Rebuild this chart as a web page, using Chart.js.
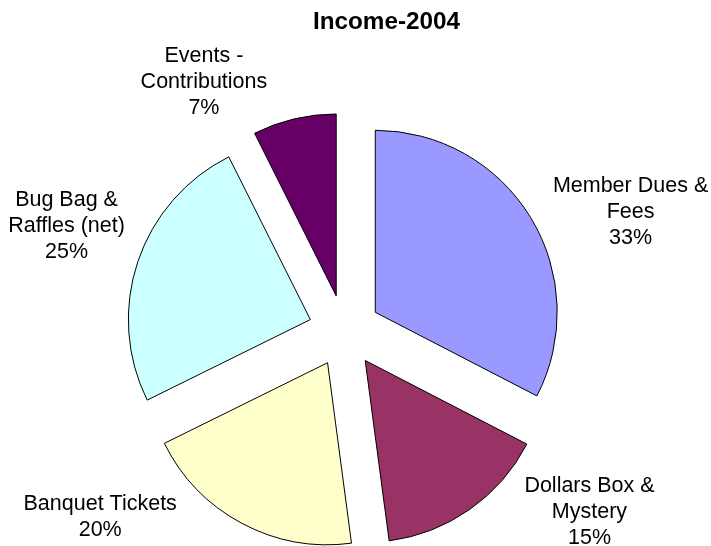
<!DOCTYPE html>
<html><head><meta charset="utf-8">
<script src="https://cdn.jsdelivr.net/npm/chart.js@4"></script>
<style>html,body{margin:0;padding:0;background:#fff;overflow:hidden}#wrap{position:relative;width:711px;height:546px}</style>
</head><body><div id="wrap"><canvas id="c"></canvas></div>
<script>
const chartTitle = 'Income-2004';
const categories = [['Member Dues &','Fees'],['Dollars Box &','Mystery'],['Banquet Tickets'],['Bug Bag &','Raffles (net)'],['Events -','Contributions']];
const shares = [32.6, 15.3, 19.8, 24.9, 7.4];
const sliceColors = ['#9999FF','#993366','#FFFFCC','#CCFFFF','#660066'];

const EXPLODE = 36;
const FONT = '"Liberation Sans", Arial, Helvetica, sans-serif';
// label placement: [angle shift from slice mid (deg, clockwise), distance from slice apex (px)]
const labelPlace = [[9.5,275],[-21.2,269.6],[28,274],[2.7,261.6],[-18.2,253]];

const explodePlugin = {
  id: 'explode',
  beforeDatasetDraw(chart, args) {
    args.meta.data.forEach(arc => {
      const mid = (arc.startAngle + arc.endAngle) / 2;
      arc._ox = arc.x; arc._oy = arc.y;
      arc.x += Math.cos(mid) * EXPLODE;
      arc.y += Math.sin(mid) * EXPLODE;
    });
  },
  afterDatasetDraw(chart, args) {
    args.meta.data.forEach(arc => { arc.x = arc._ox; arc.y = arc._oy; });
  }
};

const labelPlugin = {
  id: 'labels',
  afterDraw(chart) {
    const ctx = chart.ctx;
    const meta = chart.getDatasetMeta(0);
    const total = shares.reduce((a, b) => a + b, 0);
    ctx.save();
    ctx.fillStyle = '#000';
    ctx.textAlign = 'center';
    ctx.textBaseline = 'alphabetic';
    ctx.font = '21.5px ' + FONT;
    meta.data.forEach((arc, i) => {
      const mid = (arc.startAngle + arc.endAngle) / 2;
      const ax = arc.x + Math.cos(mid) * EXPLODE, ay = arc.y + Math.sin(mid) * EXPLODE;
      const a = mid + labelPlace[i][0] * Math.PI / 180;
      const cx = ax + Math.cos(a) * labelPlace[i][1];
      const cy = ay + Math.sin(a) * labelPlace[i][1];
      const lines = [...categories[i], Math.round(shares[i] / total * 100) + '%'];
      const lh = 26;
      lines.forEach((t, k) => {
        ctx.fillText(t, cx, cy + (k - (lines.length - 1) / 2) * lh + 7.7);
      });
    });
    ctx.font = 'bold 24.3px ' + FONT;
    ctx.fillText(chartTitle, 386.5, 28.5);
    ctx.restore();
  }
};

new Chart(document.getElementById('c'), {
  type: 'pie',
  data: {
    labels: categories,
    datasets: [{
      data: shares,
      backgroundColor: sliceColors,
      borderColor: '#000',
      borderWidth: 1,
      borderJoinStyle: 'miter'
    }]
  },
  options: {
    responsive: true,
    maintainAspectRatio: false,
    animation: false,
    events: [],
    radius: 182,
    layout: { padding: { left: 0, right: 22, top: 116, bottom: 0 } },
    plugins: { legend: { display: false }, title: { display: false }, tooltip: { enabled: false } }
  },
  plugins: [explodePlugin, labelPlugin]
});
</script>
</body></html>
